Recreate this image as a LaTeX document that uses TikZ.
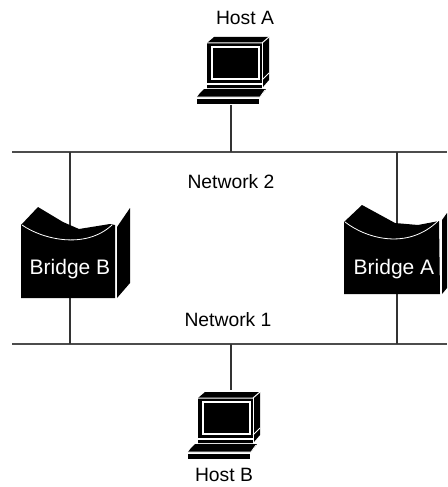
\documentclass[tikz,border=0pt]{standalone}
\usepackage{fontspec}
\setmainfont{Liberation Sans}
\tikzset{
  host/.pic={
    \fill (7,-6) -- (62,-6) -- (62,37) -- (55,45) -- (0,45) -- (0,0) -- cycle;
    \draw[white,line width=1pt] (0,0) -- (55,0) -- (62,-6);
    \draw[white,line width=1pt] (55,0) -- (55,45);
    \draw[white,line width=.8pt] (55,37) -- (62,30);
    \draw[white,line width=1.5pt] (5,4) rectangle (52,36);
    \draw[white,line width=1.2pt] (0,41) -- (55,41);
    \fill (-7,50) -- (-3,46) -- (59,46) -- (53,54) -- (-10,54) -- cycle;
    \draw[white,line width=.8pt] (-10,54) -- (53,54) -- (58,47);
    \fill (-10,56) rectangle (52,61);
  }
}
\begin{document}
\begin{tikzpicture}[x=1pt,y=-1pt,thick,
    net line/.style={line width=1.8pt,draw=black!70},
    tap line/.style={line width=1.4pt,draw=black!80},
    label node/.style={font=\fontsize{19.3}{21}\selectfont,inner sep=0pt},
    bridge node/.style={font=\fontsize{21}{23}\selectfont,inner sep=0pt,text=white}]
  \useasboundingbox (0,0) rectangle (447,487);
  % networks
  \coordinate (n2l) at (12,152);
  \coordinate (n2r) at (447,152);
  \coordinate (n1l) at (12,344);
  \coordinate (n1r) at (447,344);
  \coordinate (a2) at (231,152);
  \coordinate (b1) at (231,344);
  \coordinate (bb2) at (70,152);
  \coordinate (bb1) at (70,344);
  \coordinate (ba2) at (397,152);
  \coordinate (ba1) at (397,344);
  \coordinate (hosta) at (231,105);
  \coordinate (hostb) at (231,390);
  \path[net line] (n2l) edge (n2r) (n1l) edge (n1r);
  \path[tap line]
    (hosta) edge (a2)
    (b1) edge (hostb)
    (bb2) edge (bb1)
    (ba2) edge (ba1);
  % hosts
  \pic at (207,43) {host};
  \pic at (198,398) {host};
  \node[label node] (la) at (245,18) {Host A};
  \node[label node] (lb) at (224,475) {Host B};
  \node[label node] (l2) at (231,182) {Network 2};
  \node[label node] (l1) at (228,320) {Network 1};
  % bridge B
  \fill (21,225) -- (38,207) -- (63,222) -- (79,229) -- (110,224) -- (115,225) -- (115,298) -- (21,298) -- cycle;
  \fill (117,227) -- (130,208) -- (130,283) -- (117,298) -- cycle;
  \draw[white,line width=0.8pt] (22,225) .. controls (42,239) and (85,250) .. (112,225);
  \node[bridge node] (bb) at (70,269) {Bridge B};
  % bridge A
  \fill (344,222) -- (362,205) -- (395,223) -- (418,225) -- (439,221) -- (440,294) -- (344,294) -- cycle;
  \fill (442,220) -- (447,213) -- (447,288) -- (442,294) -- cycle;
  \draw[white,line width=0.8pt] (345,222) .. controls (367,239) and (408,250) .. (438,221);
  \node[bridge node] (ba) at (394,269) {Bridge A};
\end{tikzpicture}
\end{document}
